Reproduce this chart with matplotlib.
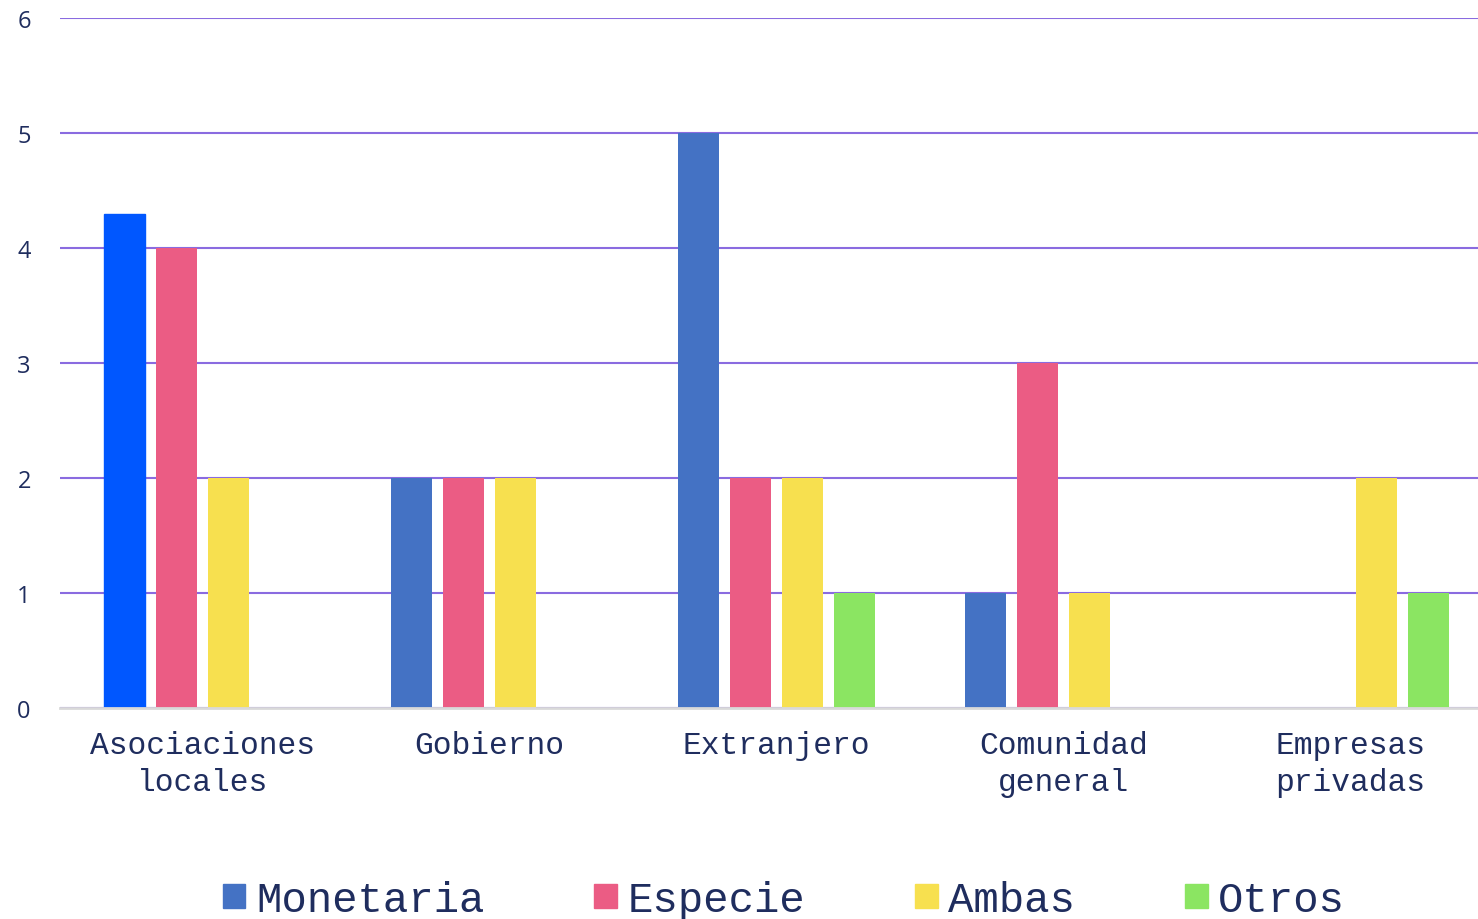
import numpy as np
import matplotlib.pyplot as plt
from matplotlib.patches import Patch

categorias = ['Asociaciones\nlocales', 'Gobierno', 'Extranjero', 'Comunidad\ngeneral', 'Empresas\nprivadas']
series = ['Monetaria', 'Especie', 'Ambas', 'Otros']
monetaria = [4.3, 2, 5, 1, 0]
especie = [4, 2, 2, 3, 0]
ambas = [2, 2, 2, 1, 2]
otros = [0, 0, 1, 0, 1]
colores = ['#4472C4', '#EB5C84', '#F7E04F', '#8BE562']

def main():
	valores = [monetaria, especie, ambas, otros]
	x = np.arange(len(categorias))
	fig = plt.figure(figsize=(14.78, 9.2), dpi=100)
	ax = fig.add_axes([60/1478, 1-709/920, 1-60/1478, 690/920])

	paso = 52/287
	ancho = 41/287
	for i, (nombre, vals) in enumerate(zip(series, valores)):
		pos = x + (i - 1.5) * paso
		barras = ax.bar(pos, vals, width=ancho, color=colores[i], zorder=3)
		if i == 0:
			barras[0].set_color('#0057FF')

	ax.set_ylim(0, 6)
	ax.set_xlim(-142.5/287, 4 + 127.5/287)
	ax.set_yticks(range(7))
	ax.yaxis.grid(True, color='#8A6BE0', linewidth=1.5, zorder=0)
	ax.set_axisbelow(True)
	for s in ['top', 'right', 'left']:
		ax.spines[s].set_visible(False)
	ax.spines['bottom'].set_color('#D9D9D9')
	ax.spines['bottom'].set_linewidth(2)
	ax.spines['bottom'].set_zorder(4)
	ax.tick_params(axis='both', length=0)
	ax.tick_params(axis='y', pad=21, labelsize=17, labelcolor='#1F2D5E')
	ax.tick_params(axis='x', pad=16)
	for lbl in ax.get_yticklabels():
		lbl.set_family('Open Sans')
	ax.set_xticks(x)
	ax.set_xticklabels(categorias, family='Liberation Mono', fontsize=22.5, color='#1F2D5E', linespacing=1.3)

	handles = [Patch(color=c, label=n) for c, n in zip(colores, series)]
	fig.legend(handles=handles, loc='center', bbox_to_anchor=(784/1478, 1-901/920), ncol=4, frameon=False,
		prop={'family': 'Liberation Mono', 'size': 30.5}, labelcolor='#1F2D5E',
		handlelength=0.53, handleheight=0.53, handletextpad=0.25, columnspacing=2.6)

	fig.savefig('out.png', dpi=100)

if __name__ == '__main__':
	main()
